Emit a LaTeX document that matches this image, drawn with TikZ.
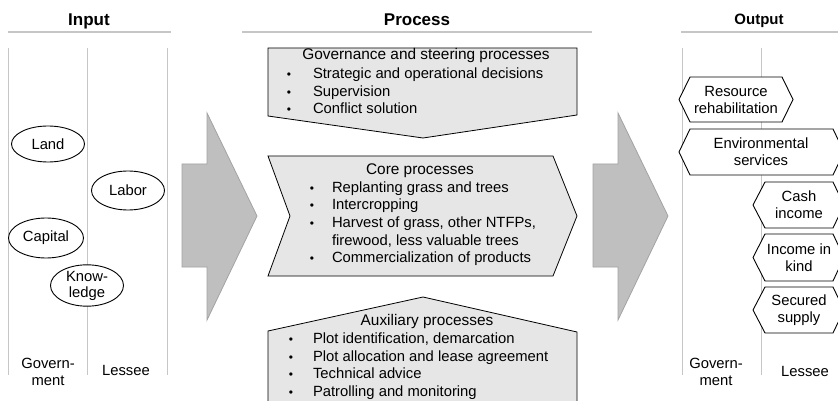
\documentclass[tikz,border=0pt]{standalone}
\usepackage{fontspec}
\setmainfont{Liberation Sans}
\usetikzlibrary{shapes.geometric}
\definecolor{rulegray}{HTML}{C6C6C6}
\definecolor{arrowfill}{HTML}{BFBFBF}
\definecolor{arrowedge}{HTML}{A3A3A3}
\definecolor{boxfill}{HTML}{E6E6E6}
\begin{document}
\begin{tikzpicture}[x=1pt,y=-1pt,
  every node/.style={font=\fontsize{14.8}{17}\selectfont, inner sep=0pt, outer sep=0pt},
  header/.style={anchor=base, font=\bfseries\fontsize{17}{20}\selectfont},
  smallheader/.style={anchor=base, font=\bfseries\fontsize{15}{18}\selectfont},
  headrule/.style={draw=rulegray, line width=1.8pt},
  lane/.style={draw=rulegray, line width=0.9pt},
  bigarrow/.style={fill=arrowfill, draw=arrowedge, line width=0.8pt, line join=miter},
  procbox/.style={fill=boxfill, draw=black, line width=0.8pt},
  resource/.style={ellipse, draw, line width=0.9pt, fill=white, align=center},
  outbox/.style={draw, line width=0.9pt, fill=white},
  label/.style={align=center},
  boxtitle/.style={anchor=mid, font=\fontsize{15.4}{17}\selectfont},
  dot/.style={anchor=mid, font=\fontsize{12}{14}\selectfont},
  itemtext/.style={anchor=mid west},
]
\clip (0,0) rectangle (838,401);
\fill[white] (0,0) rectangle (838,401);

% column headers and their rules
\node[header] (hin) at (89,26) {Input};
\node[header] (hproc) at (417,26) {Process};
\node[smallheader] (hout) at (759,25) {Output};
\draw[headrule] (8,32) -- (171,32);
\draw[headrule] (242,32) -- (592,32);
\draw[headrule] (681,32) -- (840,32);

% swim lanes
\foreach \x in {8,87,167,682,761,841}
  \draw[lane] (\x,48) -- (\x,375);

% input resources
\node[resource, minimum width=73pt, minimum height=36pt] (land) at (48,144) {Land};
\node[resource, minimum width=73pt, minimum height=39pt] (labor) at (128,190.5) {Labor};
\node[resource, minimum width=75pt, minimum height=40pt] (capital) at (46,238) {Capital};
\node[resource, minimum width=73pt, minimum height=40pt] (knowledge) at (87,285.5) {Know-\\[-1pt]ledge};

\node[label] (ingov) at (48,371.5) {Govern-\\ment};
\node[label] (inles) at (126,370) {Lessee};

% big transition arrows
\draw[bigarrow] (182,164) -- (207,164) -- (207,113) -- (257,216) -- (207,320) -- (207,267) -- (182,267) -- cycle;
\draw[bigarrow] (593,164) -- (618,164) -- (618,113) -- (668,216) -- (618,320) -- (618,267) -- (593,267) -- cycle;

% governance and steering processes
\draw[procbox] (268,48) -- (577,48) -- (577,115) -- (423,138) -- (268,116) -- cycle;
\node[boxtitle] (gov) at (426,57) {Governance and steering processes};
\foreach \y/\t/\n in {76/{Strategic and operational decisions}/g1,
                      93.5/{Supervision}/g2,
                      111/{Conflict solution}/g3}{
  \node[dot] (\n dot) at (289,\y) {•};
  \node[itemtext] (\n) at (313,\y) {\t};
}

% core processes
\draw[procbox] (268,156) -- (553,156) -- (577,216) -- (553,276) -- (268,276) -- (290,216) -- cycle;
\node[boxtitle] (core) at (420,172) {Core processes};
\foreach \y/\t/\n in {189.5/{Replanting grass and trees}/c1,
                      207/{Intercropping}/c2,
                      225/{Harvest of grass, other NTFPs,}/c3,
                      260/{Commercialization of products}/c4}{
  \node[dot] (\n dot) at (312,\y) {•};
  \node[itemtext] (\n) at (332,\y) {\t};
}
\node[itemtext] (c3b) at (332,242.5) {firewood, less valuable trees};

% auxiliary processes
\draw[procbox] (268,331) -- (423,297) -- (577,332) -- (577,420) -- (268,420) -- cycle;
\node[boxtitle] (aux) at (427,322.5) {Auxiliary processes};
\foreach \y/\t/\n in {341/{Plot identification, demarcation}/a1,
                      358.5/{Plot allocation and lease agreement}/a2,
                      376/{Technical advice}/a3,
                      393.5/{Patrolling and monitoring}/a4}{
  \node[dot] (\n dot) at (291,\y) {•};
  \node[itemtext] (\n) at (313,\y) {\t};
}

% outputs
\draw[outbox] (679,99.5) -- (690,77) -- (782,77) -- (793,99.5) -- (782,122) -- (690,122) -- cycle;
\node[label] (rehab) at (736,99.5) {Resource\\rehabilitation};
\draw[outbox] (679,152) -- (690,129) -- (833,129) -- (844,152) -- (833,175) -- (690,175) -- cycle;
\node[label] (envserv) at (761,152) {Environmental\\services};
\draw[outbox] (753,205) -- (765,182) -- (833,182) -- (844,205) -- (833,228) -- (765,228) -- cycle;
\node[label] (cash) at (799,205) {Cash\\income};
\draw[outbox] (753,257.5) -- (765,234) -- (833,234) -- (844,257.5) -- (833,281) -- (765,281) -- cycle;
\node[label] (kind) at (799,257.5) {Income in\\kind};
\draw[outbox] (753,310) -- (765,287) -- (833,287) -- (844,310) -- (833,333) -- (765,333) -- cycle;
\node[label] (supply) at (799,310) {Secured\\supply};

\node[label] (outgov) at (716,371.5) {Govern-\\ment};
\node[label] (outles) at (805,371) {Lessee};
\end{tikzpicture}
\end{document}
